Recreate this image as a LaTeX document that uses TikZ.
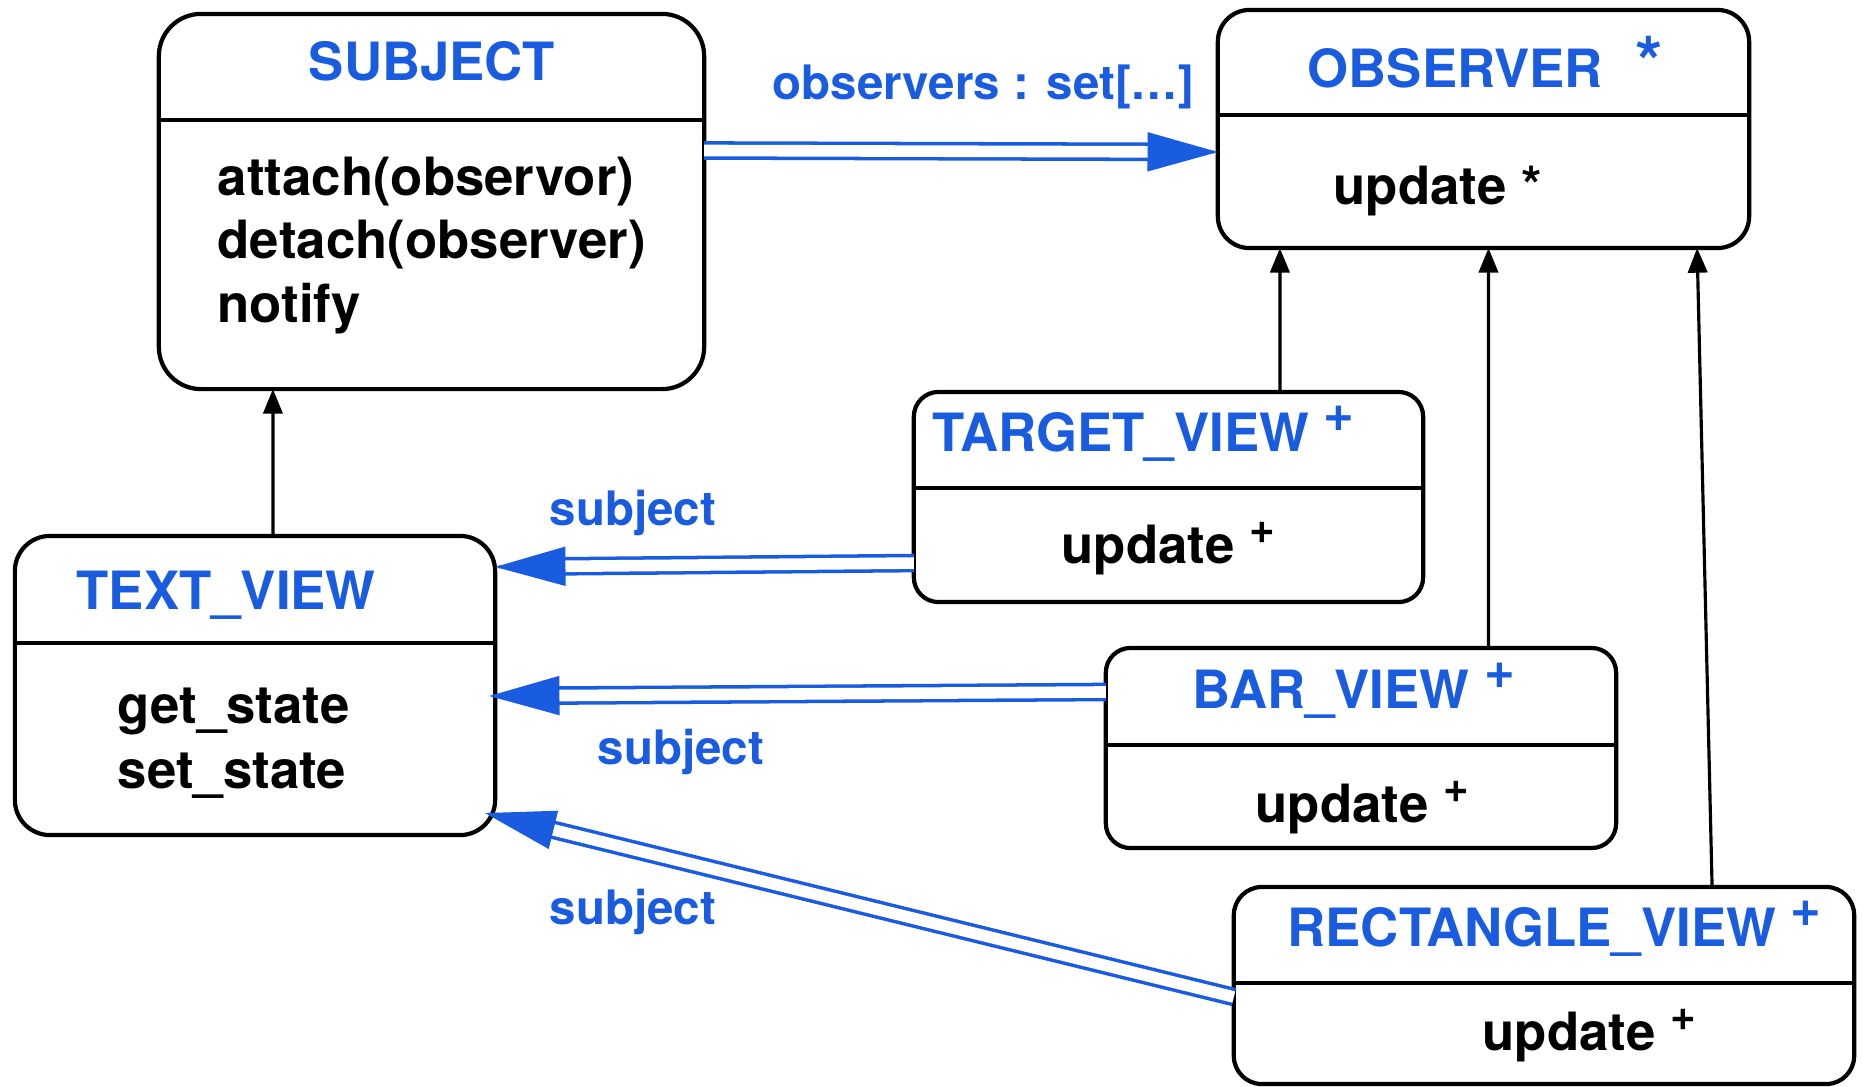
\documentclass[tikz,border=0pt]{standalone}
\usepackage{fontspec}
\setmainfont{TeX Gyre Heros}
\usetikzlibrary{arrows.meta,calc}
\definecolor{obs_blue}{RGB}{26, 92, 224}
\tikzstyle{classbox}=[rectangle,draw=black,line width=1.2pt,outer sep=0pt,inner sep=0pt]
\tikzstyle{divider}=[draw=black,line width=1.2pt]
\tikzstyle{clsname}=[anchor=base west,inner sep=0pt,text=obs_blue,
  font=\fontsize{15}{18}\selectfont\bfseries]
\tikzstyle{member}=[anchor=base west,inner sep=0pt,text=black,
  font=\fontsize{15}{18}\selectfont\bfseries]
\tikzstyle{rolename}=[anchor=base west,inner sep=0pt,text=obs_blue,
  font=\fontsize{13.5}{16}\selectfont\bfseries]
\tikzstyle{assoc}=[draw=obs_blue,line width=1pt,double=white,
  double distance=3.3pt,shorten >=16pt]
\tikzstyle{assoctip}=[draw=obs_blue,fill=obs_blue,line width=0.8pt,
  -{Triangle[length=20pt,width=11pt]}]
\tikzstyle{isa}=[draw=black,line width=0.9pt,-{Triangle[length=7pt,width=5.5pt]}]
\newcommand{\hdplus}{\raisebox{5.5pt}{+}}
\newcommand{\opplus}{\raisebox{5.5pt}{\fontsize{12.5}{12.5}\selectfont +}}

\begin{document}
\begin{tikzpicture}[x=0.01cm, y=-0.01cm]
	\useasboundingbox (0, 0) rectangle (1862, 1087);
	\node [style=classbox, minimum width=5.45cm, minimum height=3.75cm, rounded corners=12pt] (subject) at (431.5, 201.5) {};
	\node [style=classbox, minimum width=5.31cm, minimum height=2.38cm, rounded corners=9pt] (observer) at (1483.5, 129) {};
	\node [style=classbox, minimum width=5.09cm, minimum height=2.1cm, rounded corners=7pt] (target) at (1168.5, 497) {};
	\node [style=classbox, minimum width=4.8cm, minimum height=2.99cm, rounded corners=10pt] (textv) at (255, 685.5) {};
	\node [style=classbox, minimum width=5.1cm, minimum height=2cm, rounded corners=7pt] (bar) at (1361, 748) {};
	\node [style=classbox, minimum width=6.2cm, minimum height=1.97cm, rounded corners=8pt] (rect) at (1544, 985.5) {};
	\draw [style=divider] ([yshift=-1.06cm]subject.north west) to ([yshift=-1.06cm]subject.north east);
	\draw [style=divider] ([yshift=-1.05cm]observer.north west) to ([yshift=-1.05cm]observer.north east);
	\draw [style=divider] ([yshift=-0.96cm]target.north west) to ([yshift=-0.96cm]target.north east);
	\draw [style=divider] ([yshift=-1.07cm]textv.north west) to ([yshift=-1.07cm]textv.north east);
	\draw [style=divider] ([yshift=-0.97cm]bar.north west) to ([yshift=-0.97cm]bar.north east);
	\draw [style=divider] ([yshift=-0.96cm]rect.north west) to ([yshift=-0.96cm]rect.north east);
	\node [style=clsname, anchor=base] (subjectname) at (432, 80) {SUBJECT};
	\node [style=clsname] (observername) at (1307, 87) {OBSERVER\hspace{0.33cm}{\fontsize{20}{20}\selectfont *}};
	\node [style=clsname] (targetname) at (932, 451) {TARGET\_VIEW \hdplus};
	\node [style=clsname] (textvname) at (76, 609) {TEXT\_VIEW};
	\node [style=clsname] (barname) at (1192, 708) {BAR\_VIEW \hdplus};
	\node [style=clsname] (rectname) at (1287, 946) {RECTANGLE\_VIEW \hdplus};
	\node [style=member] (attach) at (217, 195) {attach(observor)};
	\node [style=member] (detach) at (217, 258) {detach(observer)};
	\node [style=member] (notify) at (217, 322) {notify};
	\node [style=member] (oupdate) at (1333, 204) {update *};
	\node [style=member] (tupdate) at (1061, 563) {update \opplus};
	\node [style=member] (getstate) at (117, 723) {get\_state};
	\node [style=member] (setstate) at (117, 788) {set\_state};
	\node [style=member] (bupdate) at (1255, 822) {update \opplus};
	\node [style=member] (rupdate) at (1482, 1050) {update \opplus};
	\node [style=rolename] (observers) at (772, 99) {observers : set[…]};
	\node [style=rolename] (subj1) at (549, 525) {subject};
	\node [style=rolename] (subj2) at (597, 764) {subject};
	\node [style=rolename] (subj3) at (549, 924) {subject};
	\coordinate (a1) at ([yshift=0.51cm]subject.east);
	\coordinate (a2) at ([yshift=-0.23cm]observer.west);
	\coordinate (b1) at ([yshift=-0.66cm]target.west);
	\coordinate (b2) at ([yshift=1.185cm]textv.east);
	\coordinate (c1) at ([yshift=0.56cm]bar.west);
	\coordinate (c2) at ([xshift=-0.06cm, yshift=-0.105cm]textv.east);
	\coordinate (d1) at ([yshift=-0.115cm]rect.west);
	\coordinate (d2) at ([xshift=-0.1cm, yshift=0.22cm]textv.south east);
	\draw [style=assoc] (a1) to (a2);
	\draw [style=assoctip] ($(a2)!1pt!(a1)$) to (a2);
	\draw [style=assoc] (b1) to (b2);
	\draw [style=assoctip] ($(b2)!1pt!(b1)$) to (b2);
	\draw [style=assoc] (c1) to (c2);
	\draw [style=assoctip] ($(c2)!1pt!(c1)$) to (c2);
	\draw [style=assoc] (d1) to (d2);
	\draw [style=assoctip] ($(d2)!1pt!(d1)$) to (d2);
	\draw [style=isa] ([xshift=0.18cm]textv.north) to ([xshift=-1.585cm]subject.south);
	\draw [style=isa] ([xshift=1.115cm]target.north) to ([xshift=-2.035cm]observer.south);
	\draw [style=isa] ([xshift=1.275cm]bar.north) to ([xshift=0.05cm]observer.south);
	\draw [style=isa] ([xshift=1.68cm]rect.north) to ([xshift=2.135cm]observer.south);
\end{tikzpicture}
\end{document}
